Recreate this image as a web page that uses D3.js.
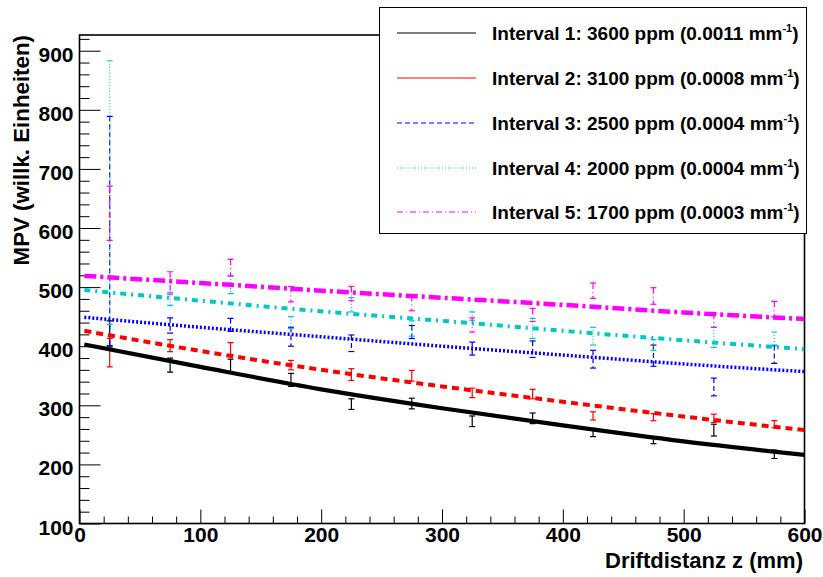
<!DOCTYPE html>
<html>
<head>
<meta charset="utf-8">
<script src="https://cdn.jsdelivr.net/npm/d3@7"></script>
<style>
  body { margin: 0; background: #fff; }
  svg text { font-family: "Liberation Sans", Arial, Helvetica, sans-serif; font-weight: bold; }
</style>
</head>
<body>
<svg id="chart" width="823" height="577"></svg>
<script>
// bin centres (mm)
var binCenters = [25, 75, 125, 175, 225, 275, 325, 375, 425, 475, 525, 575];

// MPV per interval, with errors
var mpv1 = [421, 368, 366, 343, 302, 303, 273, 278, 254, 241, 258, 217];
var err1 = [22, 12, 12, 11, 9, 9, 9, 9, 7, 6, 10, 7];
var mpv2 = [389, 401, 396, 368, 352, 350, 321, 319, 282, 280, 278, 268];
var err2 = [24, 10, 10, 8, 10, 9, 8, 8, 7, 6, 7, 6];
var mpv3 = [595, 435, 436, 416, 405, 424, 396, 395, 378, 384, 331, 386];
var err3 = [194, 13, 11, 16, 14, 11, 11, 14, 15, 18, 15, 15];
var mpv4 = [660, 480, 504, 440, 470, 430, 451, 430, 417, 402, 415, 413];
var err4 = [223, 11, 15, 10, 12, 13, 7, 17, 15, 9, 17, 11];
var mpv5 = [625, 507, 533, 488, 489, 473, 436, 453, 494, 485, 444, 463];
var err5 = [46, 19, 14, 13, 12, 13, 12, 11, 13, 14, 12, 13];

// fit curves
var fitX = [4, 100, 200, 300, 400, 500, 600];
var fit1 = [403, 365, 327, 295, 266, 239, 216];
var fit2 = [426, 392, 360, 332, 306, 281, 258];
var fit3 = [449, 432, 416, 400, 385, 370, 357];
var fit4 = [495, 477, 459, 443, 426, 410, 395];
var fit5 = [519, 507, 494, 482, 470, 457, 446];

var legendLabels = ["Interval 1: 3600 ppm (0.0011 mm", "Interval 2: 3100 ppm (0.0008 mm",
                    "Interval 3: 2500 ppm (0.0004 mm", "Interval 4: 2000 ppm (0.0004 mm",
                    "Interval 5: 1700 ppm (0.0003 mm"];

var xTicks = [0, 100, 200, 300, 400, 500, 600];
var yTicks = [100, 200, 300, 400, 500, 600, 700, 800, 900];

var series = [
    {mpv: mpv1, err: err1, fit: fit1, color: "#000000", fitDash: null, fitWidth: 4.2, barDash: null},
    {mpv: mpv2, err: err2, fit: fit2, color: "#ff0000", fitDash: "7,5", fitWidth: 4, barDash: null},
    {mpv: mpv3, err: err3, fit: fit3, color: "#0000ff", fitDash: "2,2", fitWidth: 3.5, barDash: "5,3"},
    {mpv: mpv4, err: err4, fit: fit4, color: "#00c8c8", fitDash: "6,5,2,5", fitWidth: 4, barDash: "1,2"},
    {mpv: mpv5, err: err5, fit: fit5, color: "#ff00ff", fitDash: "12,4,3,4", fitWidth: 4.5, barDash: "6,3,1,3"}
];

var svg = d3.select("#chart");

var x = d3.scaleLinear().domain([0, 600]).range([79.5, 804.5]);
var y = d3.scaleLinear().domain([100, 926.6]).range([523.5, 35]);

var clip = svg.append("defs").append("clipPath").attr("id", "frameClip");
clip.append("rect").attr("x", 79.5).attr("y", 35).attr("width", 725).attr("height", 488.5);

// minor ticks
var minorY = d3.range(100, 921, 20).filter(function(v) { return v % 100 != 0; });
var minorX = d3.range(0, 601, 20).filter(function(v) { return v % 100 != 0; });

svg.append("g").attr("transform", "translate(79.5,0)")
    .call(d3.axisLeft(y).tickValues(minorY).tickSize(-10).tickFormat(""))
    .call(function(g) { g.select(".domain").remove(); });

svg.append("g").attr("transform", "translate(0,523.5)")
    .call(d3.axisBottom(x).tickValues(minorX).tickSize(-7).tickFormat(""))
    .call(function(g) { g.select(".domain").remove(); });

// major ticks + labels
var yAxis = svg.append("g").attr("transform", "translate(79.5,0)")
    .call(d3.axisLeft(y).tickValues(yTicks).tickSize(-21).tickPadding(6));
yAxis.select(".domain").remove();
yAxis.selectAll("text").attr("dy", "0.5em").style("font-size", "21px").attr("fill", "#000");

var xAxis = svg.append("g").attr("transform", "translate(0,523.5)")
    .call(d3.axisBottom(x).tickValues(xTicks).tickSize(-14).tickPadding(4));
xAxis.select(".domain").remove();
xAxis.selectAll("text").style("font-size", "21px").attr("fill", "#000");

svg.selectAll(".tick line").attr("stroke", "#000").attr("stroke-width", 1);

// frame
svg.append("rect")
    .attr("x", 79.5).attr("y", 35).attr("width", 725).attr("height", 488.5)
    .attr("fill", "none").attr("stroke", "#000").attr("stroke-width", 1.6);

var plot = svg.append("g").attr("clip-path", "url(#frameClip)");

// error bars
series.forEach(function(s) {
    var g = plot.append("g");
    s.mpv.forEach(function(v, i) {
        var cx = x(binCenters[i]);
        var top = y(v + s.err[i]), bot = y(v - s.err[i]);
        g.append("line")
            .attr("x1", cx).attr("x2", cx).attr("y1", top).attr("y2", bot)
            .attr("stroke", s.color).attr("stroke-width", 1.2)
            .attr("stroke-dasharray", s.barDash);
        [top, bot].forEach(function(cy) {
            g.append("line")
                .attr("x1", cx - 3).attr("x2", cx + 3).attr("y1", cy).attr("y2", cy)
                .attr("stroke", s.color).attr("stroke-width", 1.2);
        });
    });
});

// fits
var fitLine = d3.line().curve(d3.curveMonotoneX);
series.forEach(function(s) {
    var pts = fitX.map(function(v, i) { return [x(v), y(s.fit[i])]; });
    plot.append("path")
        .attr("d", fitLine(pts))
        .attr("fill", "none")
        .attr("stroke", s.color)
        .attr("stroke-width", s.fitWidth)
        .attr("stroke-dasharray", s.fitDash);
});

// axis titles
svg.append("text")
    .attr("transform", "translate(29,35) rotate(-90)")
    .attr("text-anchor", "end")
    .style("font-size", "22.3px")
    .text("MPV (willk. Einheiten)");

svg.append("text")
    .attr("x", 803).attr("y", 568)
    .attr("text-anchor", "end")
    .style("font-size", "22px")
    .text("Driftdistanz z (mm)");

// legend
var legend = svg.append("g");
legend.append("rect")
    .attr("x", 379.5).attr("y", 7.5).attr("width", 427).attr("height", 226)
    .attr("fill", "#fff").attr("stroke", "#000").attr("stroke-width", 1);

var legendY = [33, 78, 123, 168, 212];
var legendDash = [null, null, "5,3", "1,2", "6,3,1,3"];
legendLabels.forEach(function(lab, i) {
    legend.append("line")
        .attr("x1", 397).attr("x2", 476).attr("y1", legendY[i]).attr("y2", legendY[i])
        .attr("stroke", series[i].color).attr("stroke-width", 1.2)
        .attr("stroke-dasharray", legendDash[i]);
    var t = legend.append("text")
        .attr("x", 492).attr("y", legendY[i] + 6.5)
        .style("font-size", "19px");
    t.append("tspan").text(lab);
    t.append("tspan").attr("dy", -8).style("font-size", "11px").text("-1");
    t.append("tspan").attr("dy", 8).text(")");
});
</script>
</body>
</html>
